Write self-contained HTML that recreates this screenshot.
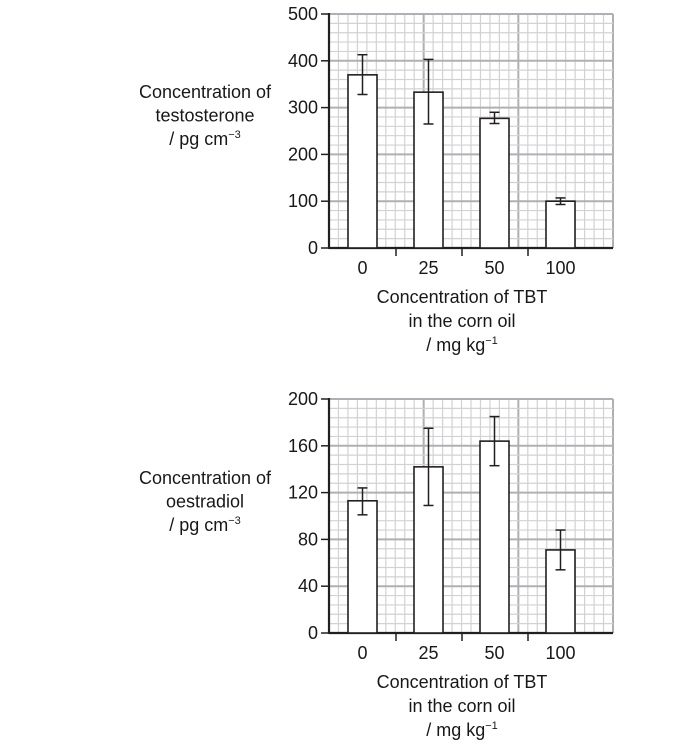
<!DOCTYPE html>
<html><head><meta charset="utf-8"><style>
html,body{margin:0;padding:0;background:#fff;}
svg{display:block;}
text{font-family:"Liberation Sans",sans-serif;font-size:18px;fill:#1a1718;}
</style></head><body>
<svg id="s" width="675" height="745" xmlns="http://www.w3.org/2000/svg"></svg>
<script>
const s=document.getElementById('s');let h='';
function chart(top,max,ticks,vals,errs,ylab,lab){
 const x0=329,x1=613,bot=top+234,H=234,dx=(x1-x0)/30,dy=H/25;
 for(let i=0;i<=30;i++){const x=x0+i*dx;const maj=i%10==0;
  h+=`<line x1="${x}" y1="${top}" x2="${x}" y2="${bot}" stroke="${maj?'#b0b0b4':'#d2d2d4'}" stroke-width="${maj?2:1.2}"/>`;}
 for(let j=0;j<=25;j++){const y=top+j*dy;const maj=j%5==0;
  h+=`<line x1="${x0}" y1="${y}" x2="${x1}" y2="${y}" stroke="${maj?'#b0b0b4':'#d2d2d4'}" stroke-width="${maj?2:1.2}"/>`;}
 h+=`<line x1="${x0}" y1="${top-1}" x2="${x0}" y2="${bot+1}" stroke="#231f20" stroke-width="2.2"/>`;
 h+=`<line x1="${x0}" y1="${bot}" x2="${x1}" y2="${bot}" stroke="#231f20" stroke-width="2.2"/>`;
 ticks.forEach((t,i)=>{const y=bot-t/max*H;
  h+=`<line x1="${x0-8}" y1="${y}" x2="${x0}" y2="${y}" stroke="#231f20" stroke-width="1.5"/>`;
  h+=`<text x="${x0-11}" y="${y+6}" text-anchor="end">${t}</text>`;});
 [396,462,528].forEach(x=>h+=`<line x1="${x}" y1="${bot}" x2="${x}" y2="${bot+8}" stroke="#231f20" stroke-width="1.5"/>`);
 const bx=[348,414,480,546],nm=['0','25','50','100'];
 vals.forEach((v,i)=>{const y=bot-v/max*H,c=bx[i]+14.5;
  h+=`<rect x="${bx[i]}" y="${y}" width="29" height="${bot-y}" fill="#fff" stroke="#231f20" stroke-width="1.6"/>`;
  const y1=bot-errs[i][0]/max*H,y2=bot-errs[i][1]/max*H;
  h+=`<line x1="${c}" y1="${y1}" x2="${c}" y2="${y2}" stroke="#231f20" stroke-width="1.5"/>`;
  h+=`<line x1="${c-5}" y1="${y1}" x2="${c+5}" y2="${y1}" stroke="#231f20" stroke-width="1.5"/>`;
  h+=`<line x1="${c-5}" y1="${y2}" x2="${c+5}" y2="${y2}" stroke="#231f20" stroke-width="1.5"/>`;
  h+=`<text x="${c}" y="${bot+26}" text-anchor="middle">${nm[i]}</text>`;});
 ylab.forEach((t,i)=>h+=`<text x="205" y="${lab+i*23.5}" text-anchor="middle">${t}</text>`);
 ['Concentration of TBT','in the corn oil','/ mg kg<tspan dy="-7" font-size="11">−1</tspan>'].forEach((t,i)=>h+=`<text x="462" y="${bot+55+i*24}" text-anchor="middle">${t}</text>`);
}
chart(14,500,[0,100,200,300,400,500],[370,333,277,100],[[413,328],[403,265],[290,266],[107,93]],
 ['Concentration of','testosterone','/ pg cm<tspan dy="-7" font-size="11">−3</tspan>'],98);
chart(399,200,[0,40,80,120,160,200],[113,142,164,71],[[124,101],[175,109],[185,143],[88,54]],
 ['Concentration of','oestradiol','/ pg cm<tspan dy="-7" font-size="11">−3</tspan>'],484);
s.innerHTML=h;
</script>
</body></html>
